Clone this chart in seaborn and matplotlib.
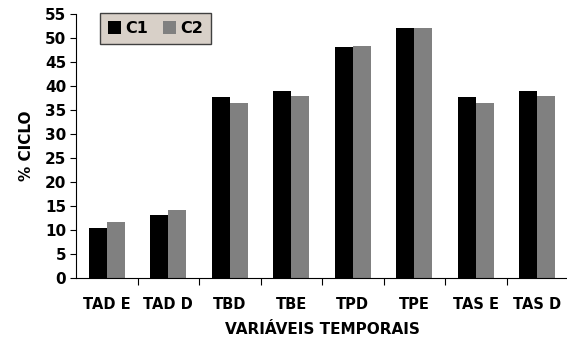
import matplotlib
matplotlib.use("Agg")
import matplotlib.pyplot as plt
import seaborn as sns
import pandas as pd

categories = ["TAD E", "TAD D", "TBD", "TBE", "TPD", "TPE", "TAS E", "TAS D"]
c1_values = [10.4, 13.1, 37.7, 39.0, 48.1, 52.1, 37.7, 39.0]
c2_values = [11.7, 14.2, 36.5, 37.9, 48.3, 52.1, 36.5, 37.9]
series_names = ["C1", "C2"]
y_ticks = list(range(0, 56, 5))

df = pd.DataFrame({
    "cat": categories * 2,
    "serie": [series_names[0]] * len(categories) + [series_names[1]] * len(categories),
    "val": c1_values + c2_values,
})

sns.set_style("white")
FONT = "DejaVu Sans"
plt.rcParams["font.family"] = FONT
plt.rcParams["text.color"] = "#000000"
plt.rcParams["axes.labelcolor"] = "#000000"
plt.rcParams["xtick.color"] = "#000000"
plt.rcParams["ytick.color"] = "#000000"

fig = plt.figure(figsize=(5.67, 3.4), dpi=100)
ax = fig.add_axes([76 / 567, 62 / 340, (568 - 76) / 567, (278 - 14) / 340])

sns.barplot(data=df, x="cat", y="val", hue="serie", order=categories,
            hue_order=series_names, palette=["#000000", "#808080"],
            width=0.585, saturation=1, ax=ax, legend=True)
for p in ax.patches:
    p.set_edgecolor("none")
    p.set_linewidth(0)

ax.set_ylim(0, 55)
ax.set_xlim(-0.5, len(categories) - 0.5)
ax.set_yticks(y_ticks)
ax.tick_params(axis="y", direction="out", length=4, width=0.8, color="#000000",
               labelcolor="#000000", pad=3, left=True)
ax.set_yticklabels([str(t) for t in y_ticks])
for t in ax.get_yticklabels():
    t.set_fontfamily(FONT)
    t.set_fontweight("bold")
    t.set_fontsize(11)

# x tick marks between categories, labels at category centers
ax.set_xticks([i + 0.5 for i in range(len(categories) - 1)], minor=False)
ax.set_xticklabels([""] * (len(categories) - 1))
ax.tick_params(axis="x", which="major", direction="out", length=5, width=0.8, color="#000000", bottom=True)
ax.set_xticks(list(range(len(categories))), minor=True)
ax.tick_params(axis="x", which="minor", length=0, pad=14, labelcolor="#000000")
ax.set_xticklabels(categories, minor=True)
for t in ax.get_xticklabels(minor=True):
    t.set_fontfamily(FONT)
    t.set_fontweight("bold")
    t.set_fontsize(10.5)

ax.set_xlabel("VARIÁVEIS TEMPORAIS", labelpad=7)
ax.set_ylabel("% CICLO", labelpad=8)
for lab in (ax.xaxis.label, ax.yaxis.label):
    lab.set_fontfamily(FONT)
    lab.set_fontweight("bold")
    lab.set_fontsize(11)
    lab.set_color("#000000")

for s in ["top", "right"]:
    ax.spines[s].set_visible(False)
for s in ["left", "bottom"]:
    ax.spines[s].set_color("#000000")
    ax.spines[s].set_linewidth(0.8)

leg = ax.legend(loc="upper left", bbox_to_anchor=((100 - 76) / 492, 1.0 - (13 - 14) / 264),
                ncol=2, frameon=True, fancybox=False,
                prop={"family": FONT, "weight": "bold", "size": 11.5},
                handlelength=0.8, handleheight=0.8, handletextpad=0.3, columnspacing=0.9,
                borderpad=0.5, borderaxespad=0)
for t in leg.get_texts():
    t.set_fontfamily(FONT)
    t.set_fontweight("bold")
    t.set_fontsize(11.5)
    t.set_color("#000000")
leg.get_frame().set_facecolor("#d8d0c8")
leg.get_frame().set_edgecolor("#404040")
leg.get_frame().set_linewidth(1.0)
leg.get_frame().set_alpha(1)
leg.set_title(None)

fig.savefig("out.png", dpi=100)
